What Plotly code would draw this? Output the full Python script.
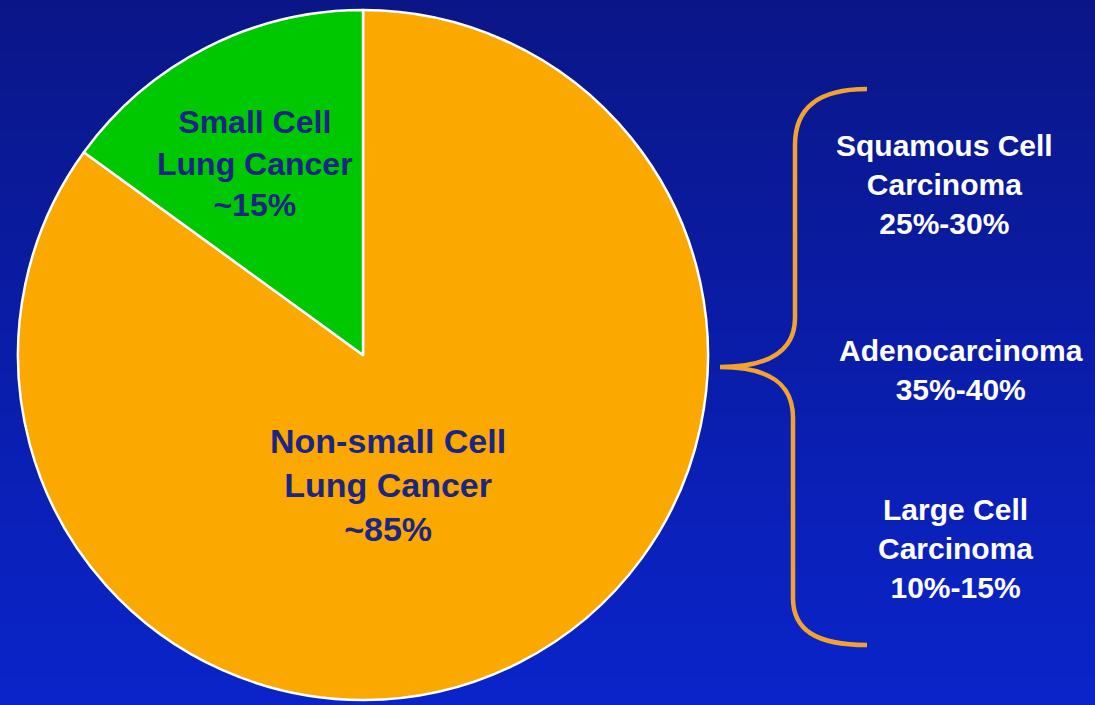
import plotly.graph_objects as go

# Lung cancer types share
categories = ["Non-small Cell<br>Lung Cancer", "Small Cell<br>Lung Cancer"]
shares = [85, 15]
slice_colors = ["#FBA800", "#00C800"]

# Non-small cell subtypes (ranges, %)
subtypes = ["Squamous Cell<br>Carcinoma", "Adenocarcinoma", "Large Cell<br>Carcinoma"]
subtype_low = [25, 35, 10]
subtype_high = [30, 40, 15]

W, H = 1095, 705
fig = go.Figure()

# Pie placed in a square pixel box; slices run clockwise from 12 o'clock
cx, cy, r = 363, 355, 345
fig.add_trace(go.Pie(
    labels=categories,
    values=shares,
    sort=False,
    direction="clockwise",
    rotation=0,
    marker=dict(colors=slice_colors, line=dict(color="white", width=2.5)),
    textinfo="none",
    hoverinfo="label+percent",
    showlegend=False,
    domain=dict(x=[(cx - r) / W, (cx + r) / W], y=[1 - (cy + r) / H, 1 - (cy - r) / H]),
))

# Invisible pixel-space axes for the background, brace and labels
fig.update_layout(
    width=W, height=H,
    margin=dict(l=0, r=0, t=0, b=0),
    paper_bgcolor="#0a198c",
    plot_bgcolor="rgba(0,0,0,0)",
    xaxis=dict(range=[0, W], visible=False, fixedrange=True, domain=[0, 1]),
    yaxis=dict(range=[H, 0], visible=False, fixedrange=True, domain=[0, 1]),
)
fig.add_trace(go.Scatter(x=[0, W], y=[0, H], mode="markers",
                         marker=dict(opacity=0), hoverinfo="skip", showlegend=False))

# Vertical blue gradient background
top = (10, 22, 136)
bot = (10, 36, 202)
n = 70
shapes = []
for i in range(n):
    t = i / (n - 1)
    col = tuple(round(top[k] + (bot[k] - top[k]) * t) for k in range(3))
    shapes.append(dict(type="rect", xref="x", yref="y", layer="below",
                       x0=0, x1=W, y0=i * H / n, y1=(i + 1) * H / n + 1,
                       fillcolor="rgb(%d,%d,%d)" % col, line=dict(width=0)))

# Curly brace grouping the subtypes
brace = ("M 867 89 C 818 89, 795 108, 795 145 L 795 318 "
         "C 795 350, 770 367, 720 367 "
         "C 770 367, 793 384, 793 418 L 793 598 "
         "C 793 630, 816 645, 867 645")
shapes.append(dict(type="path", xref="x", yref="y", path=brace,
                   line=dict(color="#F2A230", width=4.5)))
fig.update_layout(shapes=shapes)

font_family = "Liberation Sans, Arial, sans-serif"
pie_text = "#1b2584"

# Labels inside the pie
pie_label_pos = [(388, 485), (255, 163)]
pie_label_size = [34, 32]
for name, v, (x, y), s in zip(categories, shares, pie_label_pos, pie_label_size):
    fig.add_annotation(x=x, y=y, xref="x", yref="y", showarrow=False,
                       text="<b>%s<br>~%d%%</b>" % (name, v),
                       font=dict(family=font_family, size=s, color=pie_text),
                       align="center")

# Subtype labels on the right
sub_pos = [(944, 184), (961, 370), (955, 548)]
for name, lo, hi, (x, y) in zip(subtypes, subtype_low, subtype_high, sub_pos):
    fig.add_annotation(x=x, y=y, xref="x", yref="y", showarrow=False,
                       text="<b>%s<br>%d%%-%d%%</b>" % (name, lo, hi),
                       font=dict(family=font_family, size=30, color="white"),
                       align="center")

fig.write_html("out.html")
